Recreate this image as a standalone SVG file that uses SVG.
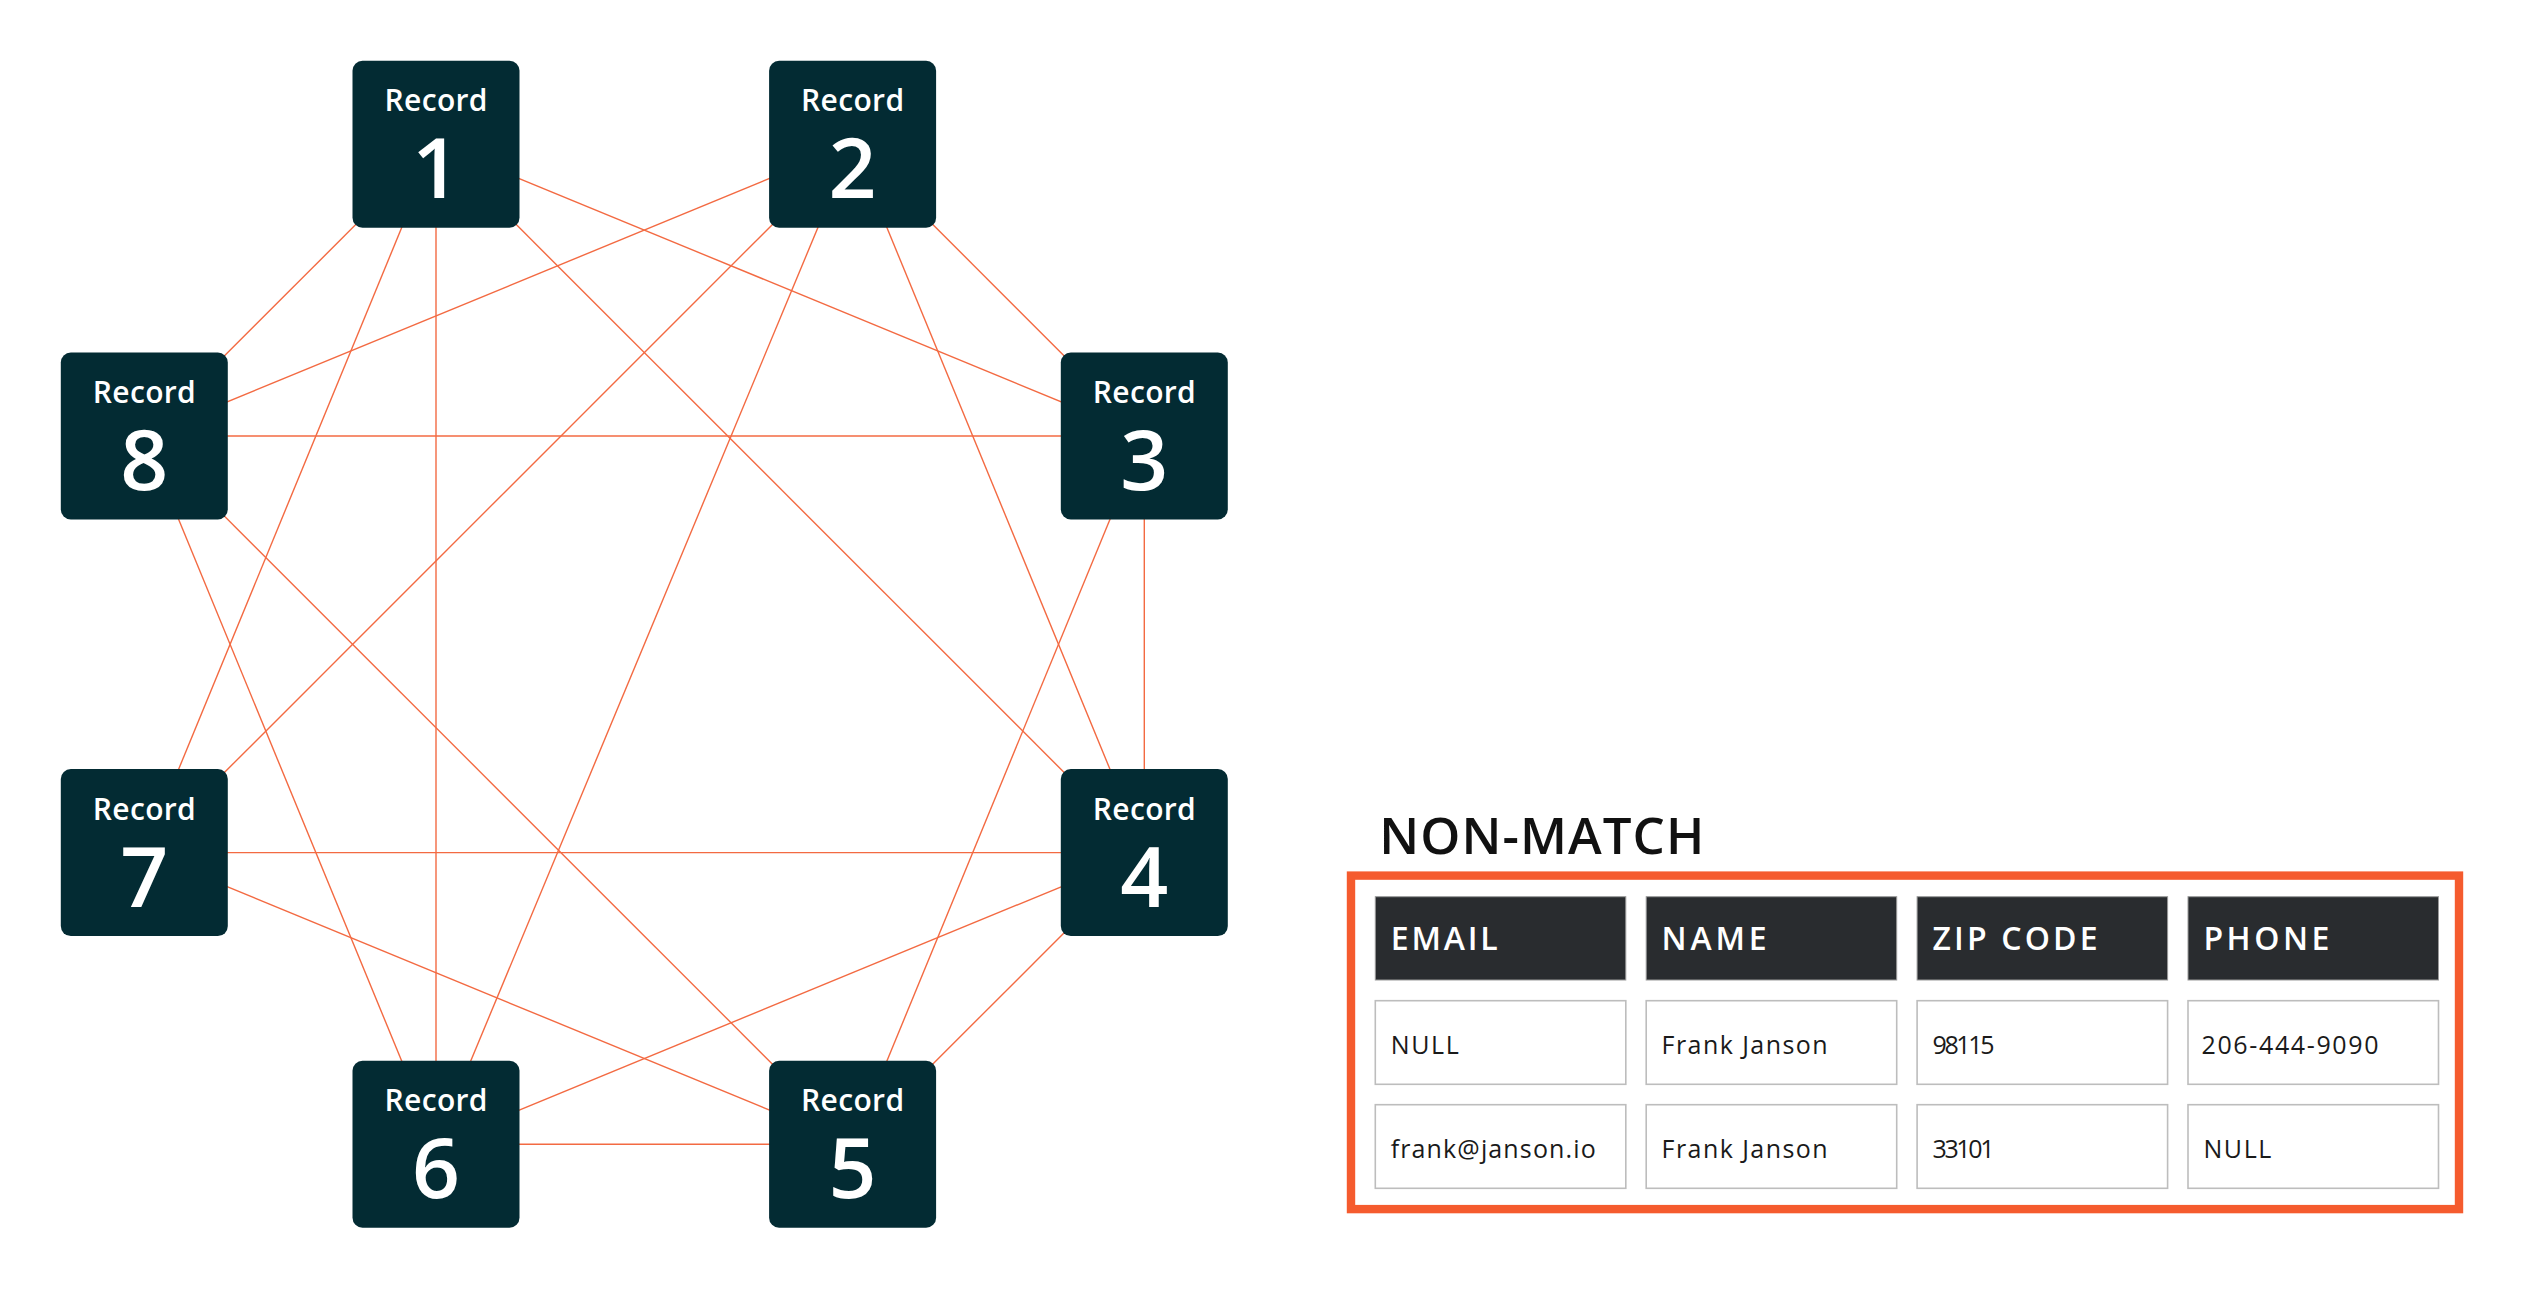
<svg xmlns="http://www.w3.org/2000/svg" width="2543" height="1293" viewBox="0 0 2543 1293">
<style>
.edge{stroke:#f36a42;stroke-width:1.4;fill:none}
.node rect{fill:#032b33}
.lbl{font-family:"Open Sans","Liberation Sans",sans-serif;font-weight:600;font-size:30px;fill:#ffffff;text-anchor:middle}
.num{font-family:"Open Sans","Liberation Sans",sans-serif;font-weight:600;font-size:84px;fill:#ffffff;text-anchor:middle}
.title{font-family:"Open Sans","Liberation Sans",sans-serif;font-weight:600;font-size:51px;fill:#111111}
.hcell{fill:#292c2f;stroke:#9a9a9a;stroke-width:1}
.dcell{fill:#ffffff;stroke:#bdbdbd;stroke-width:1.6}
.htxt{font-family:"Open Sans","Liberation Sans",sans-serif;font-weight:600;font-size:32px;fill:#ffffff}
.dtxt{font-family:"Open Sans","Liberation Sans",sans-serif;font-weight:400;font-size:25px;fill:#1a1a1a}
</style>
<rect width="2543" height="1293" fill="#ffffff"/>
<g id="connectors">
<line class="edge" x1="436" y1="144.3" x2="144.3" y2="436"/>
<line class="edge" x1="436" y1="144.3" x2="144.3" y2="852.6"/>
<line class="edge" x1="436" y1="144.3" x2="436" y2="1144.3"/>
<line class="edge" x1="436" y1="144.3" x2="1144.3" y2="852.6"/>
<line class="edge" x1="436" y1="144.3" x2="1144.3" y2="436"/>
<line class="edge" x1="852.6" y1="144.3" x2="144.3" y2="436"/>
<line class="edge" x1="852.6" y1="144.3" x2="144.3" y2="852.6"/>
<line class="edge" x1="852.6" y1="144.3" x2="436" y2="1144.3"/>
<line class="edge" x1="852.6" y1="144.3" x2="1144.3" y2="852.6"/>
<line class="edge" x1="852.6" y1="144.3" x2="1144.3" y2="436"/>
<line class="edge" x1="1144.3" y1="436" x2="144.3" y2="436"/>
<line class="edge" x1="1144.3" y1="436" x2="1144.3" y2="852.6"/>
<line class="edge" x1="1144.3" y1="436" x2="852.6" y2="1144.3"/>
<line class="edge" x1="144.3" y1="436" x2="436" y2="1144.3"/>
<line class="edge" x1="144.3" y1="436" x2="852.6" y2="1144.3"/>
<line class="edge" x1="144.3" y1="852.6" x2="1144.3" y2="852.6"/>
<line class="edge" x1="144.3" y1="852.6" x2="852.6" y2="1144.3"/>
<line class="edge" x1="1144.3" y1="852.6" x2="436" y2="1144.3"/>
<line class="edge" x1="1144.3" y1="852.6" x2="852.6" y2="1144.3"/>
<line class="edge" x1="436" y1="1144.3" x2="852.6" y2="1144.3"/>
</g>
<g id="node-1" class="node" transform="translate(352.5,60.8)"><rect width="167" height="167" rx="10"/><text class="lbl" x="83.5" y="50.7" textLength="103">Record</text><text class="num" x="83.5" y="137.5">1</text></g>
<g id="node-2" class="node" transform="translate(769.1,60.8)"><rect width="167" height="167" rx="10"/><text class="lbl" x="83.5" y="50.7" textLength="103">Record</text><text class="num" x="83.5" y="137.5">2</text></g>
<g id="node-3" class="node" transform="translate(1060.8,352.5)"><rect width="167" height="167" rx="10"/><text class="lbl" x="83.5" y="50.7" textLength="103">Record</text><text class="num" x="83.5" y="137.5">3</text></g>
<g id="node-4" class="node" transform="translate(1060.8,769.1)"><rect width="167" height="167" rx="10"/><text class="lbl" x="83.5" y="50.7" textLength="103">Record</text><text class="num" x="83.5" y="137.5">4</text></g>
<g id="node-5" class="node" transform="translate(769.1,1060.8)"><rect width="167" height="167" rx="10"/><text class="lbl" x="83.5" y="50.7" textLength="103">Record</text><text class="num" x="83.5" y="137.5">5</text></g>
<g id="node-6" class="node" transform="translate(352.5,1060.8)"><rect width="167" height="167" rx="10"/><text class="lbl" x="83.5" y="50.7" textLength="103">Record</text><text class="num" x="83.5" y="137.5">6</text></g>
<g id="node-7" class="node" transform="translate(60.8,769.1)"><rect width="167" height="167" rx="10"/><text class="lbl" x="83.5" y="50.7" textLength="103">Record</text><text class="num" x="83.5" y="137.5">7</text></g>
<g id="node-8" class="node" transform="translate(60.8,352.5)"><rect width="167" height="167" rx="10"/><text class="lbl" x="83.5" y="50.7" textLength="103">Record</text><text class="num" x="83.5" y="137.5">8</text></g>
<g id="non-match">
<text class="title" x="1379.3" y="854.3" textLength="325">NON-MATCH</text>
<rect x="1351" y="875.6" width="1108" height="333.5" fill="none" stroke="#f55b2e" stroke-width="8.4"/>
<rect class="hcell" x="1375.3" y="896.7" width="250.5" height="83.3"/>
<rect class="hcell" x="1646.2" y="896.7" width="250.5" height="83.3"/>
<rect class="hcell" x="1917.1" y="896.7" width="250.5" height="83.3"/>
<rect class="hcell" x="2188" y="896.7" width="250.5" height="83.3"/>
<text class="htxt" x="1390.7" y="949.5" textLength="107">EMAIL</text>
<text class="htxt" x="1661.6" y="949.5" textLength="105">NAME</text>
<text class="htxt" x="1932.5" y="949.5" textLength="165">ZIP CODE</text>
<text class="htxt" x="2203.4" y="949.5" textLength="126">PHONE</text>
<rect class="dcell" x="1375.3" y="1000.7" width="250.5" height="83.6"/>
<rect class="dcell" x="1646.2" y="1000.7" width="250.5" height="83.6"/>
<rect class="dcell" x="1917.1" y="1000.7" width="250.5" height="83.6"/>
<rect class="dcell" x="2188" y="1000.7" width="250.5" height="83.6"/>
<text class="dtxt" x="1390.7" y="1054.3" textLength="68">NULL</text>
<text class="dtxt" x="1661.6" y="1054.3" textLength="166">Frank Janson</text>
<text class="dtxt" x="1932.5" y="1054.3" textLength="62">98115</text>
<text class="dtxt" x="2201.5" y="1054.3" textLength="177">206-444-9090</text>
<rect class="dcell" x="1375.3" y="1104.7" width="250.5" height="83.6"/>
<rect class="dcell" x="1646.2" y="1104.7" width="250.5" height="83.6"/>
<rect class="dcell" x="1917.1" y="1104.7" width="250.5" height="83.6"/>
<rect class="dcell" x="2188" y="1104.7" width="250.5" height="83.6"/>
<text class="dtxt" x="1390.7" y="1158.3" textLength="205">frank@janson.io</text>
<text class="dtxt" x="1661.6" y="1158.3" textLength="166">Frank Janson</text>
<text class="dtxt" x="1932.5" y="1158.3" textLength="62">33101</text>
<text class="dtxt" x="2203.4" y="1158.3" textLength="68">NULL</text>
</g>
</svg>
